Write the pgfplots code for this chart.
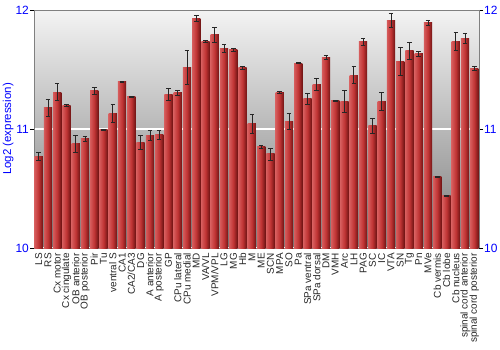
\documentclass[border=0pt]{standalone}
\usepackage{pgfplots}
\pgfplotsset{compat=1.18}
\usepackage{pgfplotstable}
\usepackage{fontspec}
\setmainfont{Liberation Sans}
\definecolor{barL}{RGB}{214,92,92}
\definecolor{barM}{RGB}{192,52,52}
\definecolor{barR}{RGB}{112,20,20}
\definecolor{axgray}{RGB}{128,128,128}
\definecolor{bgtop}{RGB}{243,243,243}
\definecolor{bgbot}{RGB}{125,125,125}
\definecolor{tickblue}{RGB}{0,0,255}

\pgfplotstableread{
x y e
0 10.77 0.03
1 11.18 0.07
2 11.31 0.07
3 11.20 0.01
4 10.876 0.07
5 10.918 0.02
6 11.32 0.03
7 10.993 0.005
8 11.13 0.075
9 11.395 0.003
10 11.27 0.005
11 10.89 0.06
12 10.946 0.04
13 10.95 0.04
14 11.29 0.05
15 11.305 0.02
16 11.517 0.14
17 11.93 0.022
18 11.738 0.01
19 11.79 0.065
20 11.68 0.035
21 11.665 0.015
22 11.515 0.015
23 11.046 0.08
24 10.85 0.01
25 10.79 0.05
26 11.31 0.01
27 11.065 0.07
28 11.554 0.005
29 11.255 0.045
30 11.372 0.05
31 11.60 0.015
32 11.236 0.005
33 11.23 0.094
34 11.453 0.07
35 11.732 0.028
36 11.03 0.063
37 11.233 0.075
38 11.91 0.06
39 11.568 0.115
40 11.657 0.07
41 11.632 0.02
42 11.894 0.022
43 10.60 0.005
44 10.438 0.005
45 11.735 0.077
46 11.763 0.04
47 11.51 0.015
}\datatable

\begin{document}
\begin{tikzpicture}
\useasboundingbox (-34bp,-102bp) rectangle (466bp,248bp);
\begin{axis}[
  at={(0,0)}, anchor=south west,
  scale only axis, width=445bp, height=238bp,
  xmin=-0.5, xmax=47.5, ymin=10, ymax=12,
  axis background/.style={shade, top color=bgtop, bottom color=bgbot},
  axis line style={axgray, line width=0.8bp},
  ytick={10,11,12}, yticklabels={10,11,12},
  ytick pos=left,
  tick align=outside,
  major tick length=4bp,
  ytick style={black, line width=0.6bp},
  yticklabel style={font=\fontsize{12}{12}\selectfont, text=tickblue, inner sep=1bp},
  ymajorgrids, grid style={white, line width=1.1bp},
  xtick={0,...,47},
  xtick style={draw=none},
  xticklabels={LS, RS, Cx motor, Cx cingulate, OB anterior, OB posterior, Pir, Tu, ventral S, CA1, CA2/CA3, DG, A anterior, A posterior, GP, CPu lateral, CPu medial, MD, VA/VL, VPM/VPL, LG, MG, Hb, M, ME, SCN, MPA, SO, Pa, SPa ventral, SPa dorsal, DM, VMH, Arc, LH, PAG, SC, IC, VTA, SN, Tg, Pn, MVe, Cb vermis, Cb lobe, Cb nucleus, spinal cord anterior, spinal cord posterior},
  xticklabel style={rotate=90, anchor=east, font=\fontsize{10}{10}\selectfont, text=black!85, inner sep=1bp},
  ylabel={Log2 (expression)},
  every axis y label/.style={at={(axis description cs:-0.058,0.5)}, rotate=90, anchor=center, font=\fontsize{11.5}{12}\selectfont, text=tickblue},
]
\pgfplotsinvokeforeach{0,...,47}{
\addplot[ybar, bar width=0.89, bar shift=0, draw=none, left color=barL, right color=barR, middle color=barM, restrict expr to domain={\coordindex}{#1:#1}] table[x=x, y=y] {\datatable};
}
\addplot[draw=none, mark=none, forget plot,
  error bars/.cd, y dir=both, y explicit,
  error mark=-,
  error bar style={draw=black!85, line width=0.7bp},
  error mark options={draw=black!85, rotate=90, mark size=2.3bp, line width=0.8bp}]
  table[x=x, y=y, y error=e] {\datatable};
\end{axis}
\begin{axis}[
  at={(0,0)}, anchor=south west,
  scale only axis, width=445bp, height=238bp,
  xmin=-0.5, xmax=47.5, ymin=10, ymax=12,
  hide x axis,
  axis y line*=right,
  axis line style={axgray, line width=0.8bp},
  ytick={10,11,12}, yticklabels={10,11,12},
  tick align=outside,
  major tick length=4bp,
  ytick style={black, line width=0.6bp},
  yticklabel style={font=\fontsize{12}{12}\selectfont, text=tickblue, inner sep=1bp},
]
\addplot[draw=none] coordinates {(0,10)};
\end{axis}
\end{tikzpicture}
\end{document}
